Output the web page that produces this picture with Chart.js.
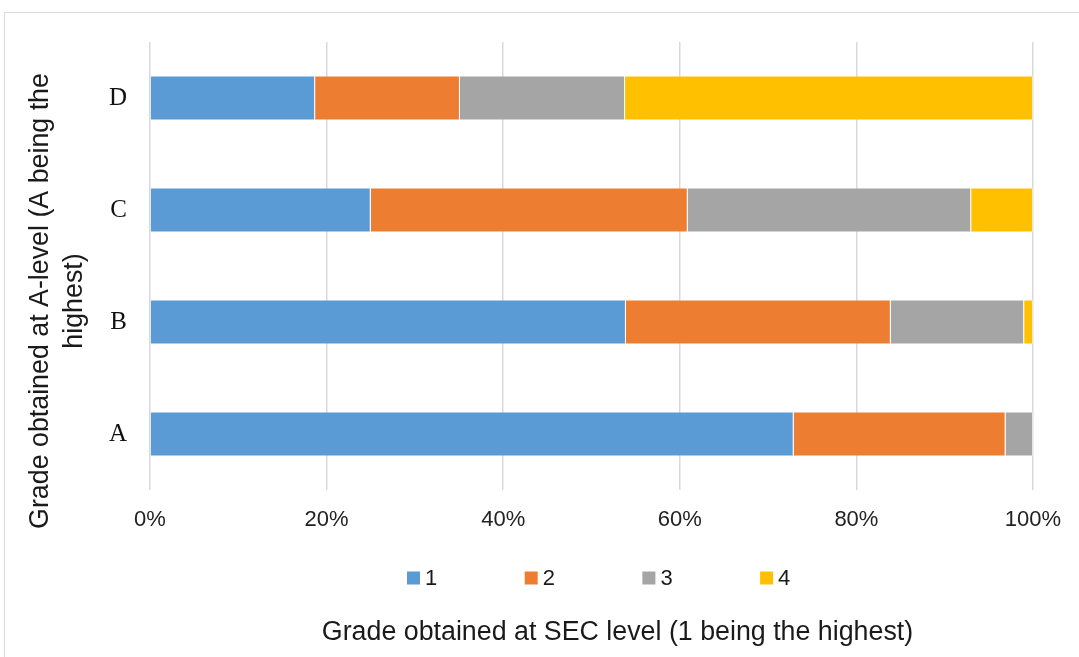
<!DOCTYPE html>
<html>
<head>
<meta charset="utf-8">
<script src="https://cdn.jsdelivr.net/npm/chart.js@4.4.0/dist/chart.umd.min.js"></script>
<style>
  html, body { margin: 0; padding: 0; background: #fff; }
  #wrap { width: 1079px; height: 657px; }
</style>
</head>
<body>
<div id="wrap"><canvas id="gradeChart" width="1079" height="657"></canvas></div>
<script>
const grades = ['D', 'C', 'B', 'A'];
const secGrades = ['1', '2', '3', '4'];
const sec1 = [18.7, 25.0, 53.9, 72.9];
const sec2 = [16.4, 35.9, 30.0, 24.0];
const sec3 = [18.7, 32.1, 15.1, 3.1];
const sec4 = [46.2, 7.0, 1.0, 0];
const xTicks = [0, 20, 40, 60, 80, 100];
const colors = ['#5B9BD5', '#ED7D31', '#A5A5A5', '#FFC000'];

const xTitle = 'Grade obtained at SEC level (1 being the highest)';
const yTitle = ['Grade obtained at A-level (A being the', 'highest)'];

const seriesValues = [sec1, sec2, sec3, sec4];

// frame, axis titles and legend drawn in canvas
const decorPlugin = {
  id: 'decor',
  beforeDraw(chart) {
    const ctx = chart.ctx;
    ctx.save();
    ctx.fillStyle = '#fff';
    ctx.fillRect(0, 0, chart.width, chart.height);
    ctx.strokeStyle = '#d9d9d9';
    ctx.lineWidth = 1;
    ctx.strokeRect(4.5, 12.5, chart.width + 20, chart.height + 20);
    ctx.restore();
  },
  afterDraw(chart) {
    const { ctx, chartArea } = chart;
    ctx.save();
    ctx.fillStyle = '#1a1a1a';
    ctx.textBaseline = 'middle';
    ctx.textAlign = 'center';
    ctx.font = '26.8px "Liberation Sans", Arial, sans-serif';
    // x title
    const cx = (chartArea.left + chartArea.right) / 2 + 26;
    ctx.fillText(xTitle, cx, 633);
    // y title
    ctx.save();
    ctx.translate(41, 301);
    ctx.rotate(-Math.PI / 2);
    yTitle.forEach((line, i) => ctx.fillText(line, 0, i * 34));
    ctx.restore();
    // legend
    ctx.font = '22px "Liberation Sans", Arial, sans-serif';
    ctx.textAlign = 'left';
    chart.data.datasets.forEach((ds, i) => {
      const x = 407 + i * 117.7;
      const y = 578;
      ctx.fillStyle = ds.backgroundColor;
      ctx.fillRect(x, y - 6.5, 13, 13);
      ctx.fillStyle = '#1a1a1a';
      ctx.fillText(ds.label, x + 18, y + 1);
    });
    ctx.restore();
  }
};

new Chart(document.getElementById('gradeChart').getContext('2d'), {
  type: 'bar',
  data: {
    labels: grades,
    datasets: secGrades.map((g, i) => ({
      label: g,
      data: seriesValues[i],
      backgroundColor: colors[i],
      borderColor: 'rgba(255,255,255,0.35)',
      borderWidth: 1,
      barPercentage: 0.4,
      categoryPercentage: 1.0
    }))
  },
  options: {
    indexAxis: 'y',
    responsive: false,
    animation: false,
    layout: { padding: { top: 42, right: 46, bottom: 107, left: 0 } },
    plugins: {
      legend: { display: false },
      title: { display: false },
      tooltip: { enabled: false }
    },
    scales: {
      x: {
        stacked: true,
        min: 0,
        max: 100,
        afterBuildTicks(scale) {
          scale.ticks = xTicks.map(v => ({ value: v }));
        },
        afterFit(scale) { scale.height = 60; },
        grid: { color: '#d9d9d9', lineWidth: 1.5, drawTicks: false },
        border: { display: false },
        ticks: {
          padding: 17,
          color: '#222',
          font: { family: '"Liberation Sans", Arial, sans-serif', size: 22 },
          callback: v => v + '%'
        }
      },
      y: {
        stacked: true,
        afterFit(scale) { scale.width = 150; },
        grid: { display: false, drawTicks: false },
        border: { display: false },
        ticks: {
          padding: 23,
          color: '#111',
          font: { family: '"Liberation Serif", "Times New Roman", serif', size: 25 }
        }
      }
    }
  },
  plugins: [decorPlugin]
});
</script>
</body>
</html>
